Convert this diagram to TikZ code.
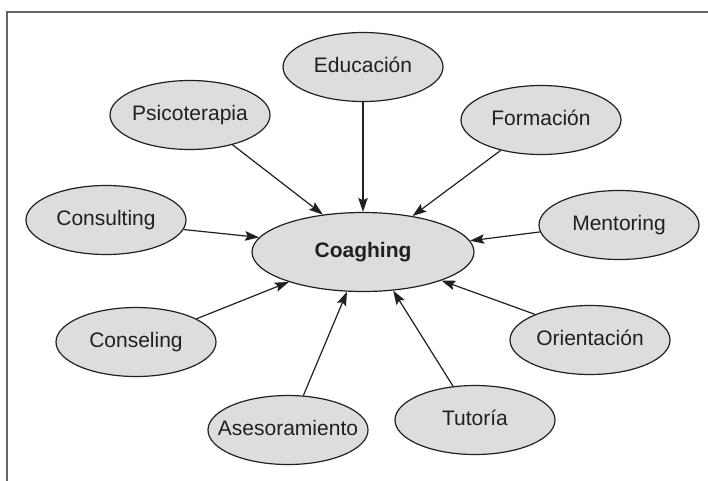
\documentclass[tikz,border=0pt]{standalone}
\usepackage{fontspec}
\setmainfont{Liberation Sans}
\usetikzlibrary{shapes.geometric,arrows.meta}
\definecolor{ellfill}{HTML}{DCDDDF}
\definecolor{ink}{HTML}{231F20}
\definecolor{framegray}{HTML}{666666}
\begin{document}
\begin{tikzpicture}[x=1pt,y=-1pt,
  ell/.style={ellipse,draw=ink,fill=ellfill,line width=1.2pt,
    minimum width=160pt,minimum height=69pt,inner sep=0pt,
    text=ink,text height=15pt,text depth=4.5pt,
    font=\fontsize{21}{25}\selectfont},
  hub/.style={ell,minimum width=222pt,minimum height=79pt,
    font=\fontsize{21}{25}\selectfont\bfseries},
  conn/.style={draw=ink,line width=1.2pt,
    -{Stealth[length=14pt,width=9.5pt,inset=2.5pt]}}]
\useasboundingbox (0,0) rectangle (708,480);
\draw[framegray,line width=2pt] (7,481) -- (7,12) -- (709,12);

\node[hub] (coag) at (363,252) {\makebox[0pt]{Coaghing}};
\node[ell] (psi) at (190,115) {\makebox[0pt]{Psicoterapia}};
\node[ell] (edu) at (363,67) {\makebox[0pt]{Educación}};
\node[ell] (form) at (541,120) {\makebox[0pt]{Formación}};
\node[ell] (cons) at (106,220) {\makebox[0pt]{Consulting}};
\node[ell] (ment) at (619,225) {\makebox[0pt]{Mentoring}};
\node[ell] (consel) at (136,342) {\makebox[0pt]{Conseling}};
\node[ell] (ori) at (590,340) {\makebox[0pt]{Orientación}};
\node[ell] (ases) at (288,430) {\makebox[0pt]{Asesoramiento}};
\node[ell] (tut) at (475,420) {\makebox[0pt]{Tutoría}};

\draw[conn] (psi.-35.7) -- (coag.137.9);
\draw[conn] (edu.-90) -- (coag.90);
\draw[conn] (form.217.3) -- (coag.36);
\draw[conn] (ment.185.8) -- (coag.6.3);
\draw[conn] (ori.155.9) -- (coag.-20.9);
\draw[conn] (tut.123.3) -- (coag.-52);
\draw[conn] (ases.66) -- (coag.248);
\draw[conn] (consel.21.8) -- (coag.202.4);
\draw[conn] (cons.-7.2) -- (coag.172.5);
\end{tikzpicture}
\end{document}
